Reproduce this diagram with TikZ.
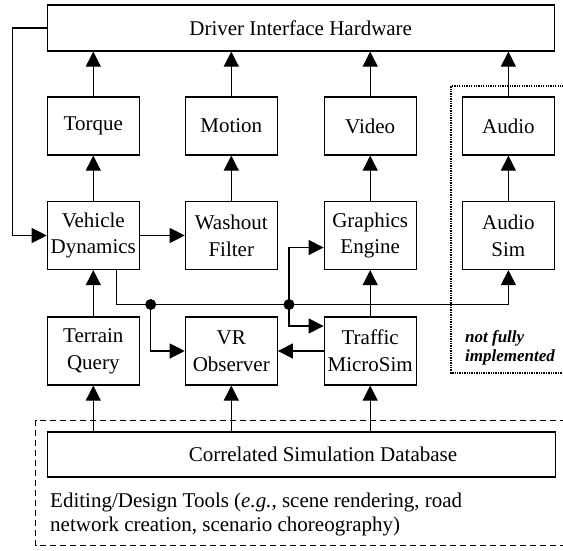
\documentclass[tikz,border=0pt]{standalone}
\usepackage{fontspec}
\setmainfont{Liberation Serif}
\usetikzlibrary{arrows.meta,calc}
\begin{document}
\begin{tikzpicture}[x=1pt,y=-1pt,
  box/.style={draw,line width=1.2pt,minimum width=92pt,inner sep=0pt,align=center,
    font=\fontsize{21}{26.7}\selectfont},
  arr/.style={line width=1.2pt,-{Triangle[length=15pt,width=15pt]}},
  txt/.style={inner sep=0pt,font=\fontsize{21}{24}\selectfont}]
\useasboundingbox (0,0) rectangle (563,550);
\clip (0,0) rectangle (563,550);
% boxes
\node[box,minimum width=507pt,minimum height=46pt] (dih) at (300.7,28) {Driver Interface Hardware};
\node[box,minimum height=58pt] (torque) at (93.3,126) {Torque};
\node[box,minimum height=58pt] (motion) at (231.3,126) {Motion};
\node[box,minimum height=58pt] (video) at (370.2,126) {Video};
\node[box,minimum height=58pt] (audio) at (508.4,126) {Audio};
\node[box,minimum height=68pt] (vd) at (93.3,235.5) {Vehicle\\Dynamics};
\node[box,minimum height=68pt] (wf) at (231.3,235.5) {Washout\\Filter};
\node[box,minimum height=68pt] (ge) at (370.2,235.5) {Graphics\\Engine};
\node[box,minimum height=68pt] (as) at (508.4,235.5) {Audio\\Sim};
\node[box,minimum height=68pt] (tq) at (93.3,351) {Terrain\\Query};
\node[box,minimum height=68pt] (vr) at (231.3,351) {VR\\Observer};
\node[box,minimum height=68pt] (tm) at (370.2,351) {Traffic\\MicroSim};
\node[box,minimum width=508pt,minimum height=45pt] (csd) at (301.2,454.5) {};
\node[txt] (csdtext) at (323,454.5) {Correlated Simulation Database};
\node[txt,anchor=west,align=left] (edit) at (50,514) {Editing/Design Tools (\textit{e.g.}, scene rendering, road\\network creation, scenario choreography)};
\node[inner sep=0pt,anchor=west,align=left,font=\fontsize{17}{18.4}\selectfont\bfseries\itshape] (nfi) at (465,348) {not fully\\implemented};
% group frames
\draw[line width=1.4pt,dash pattern=on 1.3pt off 1.1pt] (566,86) -- (451,86) -- (451,373) -- (566,373);
\draw[line width=1.4pt,dash pattern=on 6pt off 4pt] (566,420.5) -- (35.7,420.5) -- (35.7,545.7) -- (566,545.7);
% upward arrows to hardware
\foreach \n in {torque,motion,video,audio}
  \draw[arr] (\n.north) -- (\n.north |- dih.south);
\draw[arr] (vd.north) -- (torque.south);
\draw[arr] (wf.north) -- (motion.south);
\draw[arr] (ge.north) -- (video.south);
\draw[arr] (as.north) -- (audio.south);
% feedback from hardware to vehicle dynamics
\coordinate (L) at (12.7,28);
\draw[arr] (dih.west) -- (L) |- (vd.west);
\draw[arr] (vd.east) -- (wf.west);
\draw[arr] (tq.north) -- (vd.south);
% database to bottom row
\draw[arr] (tq.south |- csd.north) -- (tq.south);
\draw[arr] (vr.south |- csd.north) -- (vr.south);
\draw[arr] (tm.south |- csd.north) -- (tm.south);
% state bus
\coordinate (vdo) at ($(vd.south)+(23.4pt,0)$);
\coordinate (j1) at (150.7,304.5);
\coordinate (j2) at (289,304.5);
\draw[arr] (vdo) |- (as.south |- j1) -- (as.south);
\draw[arr] (j1) |- (vr.west);
\draw[arr] (j2) |- ([yshift=-12pt]ge.west);
\draw[arr] (j2) |- ([yshift=25pt]tm.west);
\draw[arr] (tm.west) -- (vr.east);
\draw[arr] (tm.north) -- (ge.south);
\fill (j1) circle (5.5pt);
\fill (j2) circle (5.5pt);
\end{tikzpicture}
\end{document}
